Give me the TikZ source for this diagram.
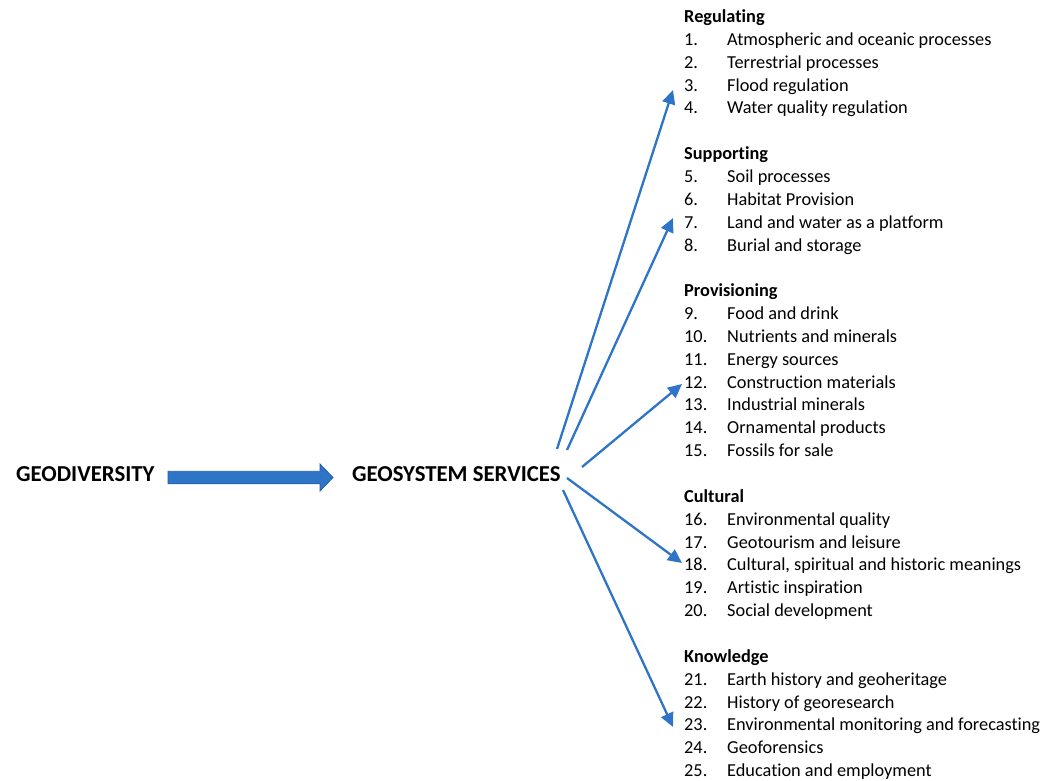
\documentclass[tikz,border=0pt]{standalone}
\usepackage{fontspec}
\setmainfont{Carlito}[Ligatures=NoCommon]
\usetikzlibrary{arrows.meta,calc}
\definecolor{arrowblue}{RGB}{46,117,200}
\definecolor{arrowedge}{RGB}{38,92,168}

\begin{document}
\begin{tikzpicture}[x=1pt,y=-1pt,
  title/.style={font=\fontsize{22.8}{26}\selectfont\bfseries, inner sep=0pt, anchor=base west},
  grouphead/.style={font=\fontsize{18.3}{22}\selectfont\bfseries, inner sep=0pt, anchor=base west},
  item/.style={font=\fontsize{18.3}{22}\selectfont, inner sep=0pt, anchor=base west},
  link/.style={arrowblue, line width=2.3pt, -{Triangle[length=14pt,width=13pt]}},
]
\useasboundingbox (0,0) rectangle (1061,780);

% main concepts
\node[title] (geo) at (16,481.5) {GEODIVERSITY};
\node[title] (gs) at (352,481) {GEOSYSTEM SERVICES};

% block arrow between the two concepts
\coordinate (bigL) at (168,477.5);
\coordinate (bigR) at (333,477.5);
\draw[fill=arrowblue, draw=arrowedge, line width=0.8pt]
  ($(bigL)+(0,-6.25)$) -- ($(bigR)+(-13,-6.25)$) -- ($(bigR)+(-13,-13.5)$)
  -- (bigR) -- ($(bigR)+(-13,13.5)$) -- ($(bigR)+(-13,6.25)$)
  -- ($(bigL)+(0,6.25)$) -- cycle;

% group headings (grid row k, baseline 22.5 + 22.85 k)
\foreach \k/\name/\txt in {0/hreg/Regulating, 6/hsup/Supporting, 12/hpro/Provisioning,
                           21/hcul/Cultural, 28/hkno/Knowledge}
  \node[grouphead] (\name) at (684,{22.5+22.85*\k}) {\txt};

% numbered services
\foreach \k/\n/\txt in {
   1/1/Atmospheric and oceanic processes,
   2/2/Terrestrial processes,
   3/3/Flood regulation,
   4/4/Water quality regulation,
   7/5/Soil processes,
   8/6/Habitat Provision,
   9/7/Land and water as a platform,
  10/8/Burial and storage,
  13/9/Food and drink,
  14/10/Nutrients and minerals,
  15/11/Energy sources,
  16/12/Construction materials,
  17/13/Industrial minerals,
  18/14/Ornamental products,
  19/15/Fossils for sale,
  22/16/Environmental quality,
  23/17/Geotourism and leisure,
  24/18/{Cultural, spiritual and historic meanings},
  25/19/Artistic inspiration,
  26/20/Social development,
  29/21/Earth history and geoheritage,
  30/22/History of georesearch,
  31/23/Environmental monitoring and forecasting,
  32/24/Geoforensics,
  33/25/Education and employment}
{
  \node[item] (n\n) at (684,{22.5+22.85*\k}) {\n.};
  \node[item] (t\n) at (727,{22.5+22.85*\k}) {\txt};
}

% connectors from GEOSYSTEM SERVICES to the groups
\coordinate (s1) at (557,449);
\coordinate (s2) at (567,450);
\coordinate (s3) at (582,467);
\coordinate (s4) at (567,478);
\coordinate (s5) at (563,490);
\coordinate (e1) at (673,90);
\coordinate (e2) at (673,218);
\coordinate (e3) at (682,384);
\coordinate (e4) at (682,563);
\coordinate (e5) at (673,727);
\foreach \i in {1,...,5}
  \draw[link] (s\i) -- (e\i);
\end{tikzpicture}
\end{document}
